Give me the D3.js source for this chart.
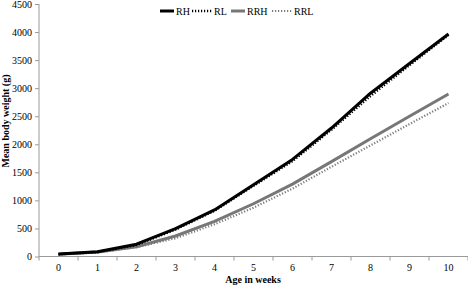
<!DOCTYPE html>
<html>
<head>
<meta charset="utf-8">
<script src="https://cdn.jsdelivr.net/npm/d3@7"></script>
<style>
  body { margin: 0; background: #fff; }
  svg { display: block; }
  svg text { font-family: "Liberation Serif", "DejaVu Serif", serif; }
  .axis path, .axis line { stroke: #9a9a9a; }
  .axis text { font-size: 10px; fill: #000; }
  .title { font-size: 10px; font-weight: bold; }
  .legend text { font-size: 10px; }
</style>
</head>
<body>
<div id="chart"></div>
<script>
(function () {
    "use strict";

    // --- Data ---
    var weeks = [0, 1, 2, 3, 4, 5, 6, 7, 8, 9, 10];
    var rh  = [45, 86, 220, 495, 830, 1280, 1730, 2290, 2910, 3440, 3965];
    var rl  = [40, 78, 205, 480, 815, 1260, 1700, 2260, 2860, 3410, 3950];
    var rrh = [40, 80, 175, 365, 625, 940, 1290, 1690, 2100, 2500, 2895];
    var rrl = [38, 72, 165, 325, 575, 870, 1210, 1600, 1980, 2360, 2735];
    var yTicks = [0, 500, 1000, 1500, 2000, 2500, 3000, 3500, 4000, 4500];

    var series = [
        { name: "RH",  values: rh,  color: "#000",    width: 3,   dash: null },
        { name: "RL",  values: rl,  color: "#000",    width: 2.5, dash: "1.2,1.8" },
        { name: "RRH", values: rrh, color: "#777",    width: 3,   dash: null },
        { name: "RRL", values: rrl, color: "#7a7a7a", width: 2.2, dash: "1.2,1.8" }
    ];

    var W = 468, H = 285;
    var margin = { top: 4, right: 0, bottom: 28.5, left: 39 };
    var width = W - margin.left - margin.right;
    var height = H - margin.top - margin.bottom;

    var svg = d3.select("#chart").append("svg")
        .attr("width", W)
        .attr("height", H);

    var g = svg.append("g")
        .attr("transform", "translate(" + margin.left + "," + margin.top + ")");

    var x = d3.scaleBand().domain(weeks).range([0, width]).padding(0);
    var y = d3.scaleLinear().domain([0, 4500]).range([height, 0]);

    // Y axis
    var yAxis = g.append("g").attr("class", "axis")
        .call(d3.axisLeft(y).tickValues(yTicks).tickFormat(d3.format("d"))
            .tickSize(4).tickPadding(3));
    yAxis.attr("font-family", null);
    yAxis.select(".domain").attr("d", "M0," + height + "V0");

    // X axis: labels centred in bands, ticks on band edges
    var xAxis = g.append("g").attr("class", "axis")
        .attr("transform", "translate(0," + height + ")")
        .call(d3.axisBottom(x).tickSize(0).tickPadding(7));
    xAxis.attr("font-family", null);
    xAxis.select(".domain").attr("d", "M0,0H" + width);
    xAxis.selectAll(".edge")
        .data(weeks.concat([null]))
        .enter().append("line")
        .attr("class", "edge")
        .attr("x1", function (d, i) { return i * x.bandwidth(); })
        .attr("x2", function (d, i) { return i * x.bandwidth(); })
        .attr("y1", 0).attr("y2", 4);

    // Lines (straight segments, as in the original)
    var line = d3.line()
        .x(function (d, i) { return x(weeks[i]) + x.bandwidth() / 2; })
        .y(function (d) { return y(d); });

    series.slice().reverse().forEach(function (s) {
        g.append("path")
            .datum(s.values)
            .attr("fill", "none")
            .attr("stroke", s.color)
            .attr("stroke-width", s.width)
            .attr("stroke-dasharray", s.dash)
            .attr("stroke-linejoin", "round")
            .attr("d", line);
    });

    // Axis titles
    svg.append("text").attr("class", "title")
        .attr("x", 253).attr("y", 283)
        .attr("text-anchor", "middle")
        .text("Age in weeks");

    svg.append("text").attr("class", "title")
        .attr("transform", "translate(9,121) rotate(-90)")
        .attr("text-anchor", "middle")
        .text("Mean body weight (g)");

    // Legend
    var legendX = [160, 192, 231, 272];
    var legend = svg.append("g").attr("class", "legend");
    series.forEach(function (s, i) {
        var lx = legendX[i];
        var len = s.dash ? 20 : 14;
        legend.append("line")
            .attr("x1", lx).attr("x2", lx + len)
            .attr("y1", 11).attr("y2", 11)
            .attr("stroke", s.color)
            .attr("stroke-width", s.width)
            .attr("stroke-dasharray", s.dash);
        legend.append("text")
            .attr("x", lx + len + 2).attr("y", 14.5)
            .text(s.name);
    });
})();
</script>
</body>
</html>
